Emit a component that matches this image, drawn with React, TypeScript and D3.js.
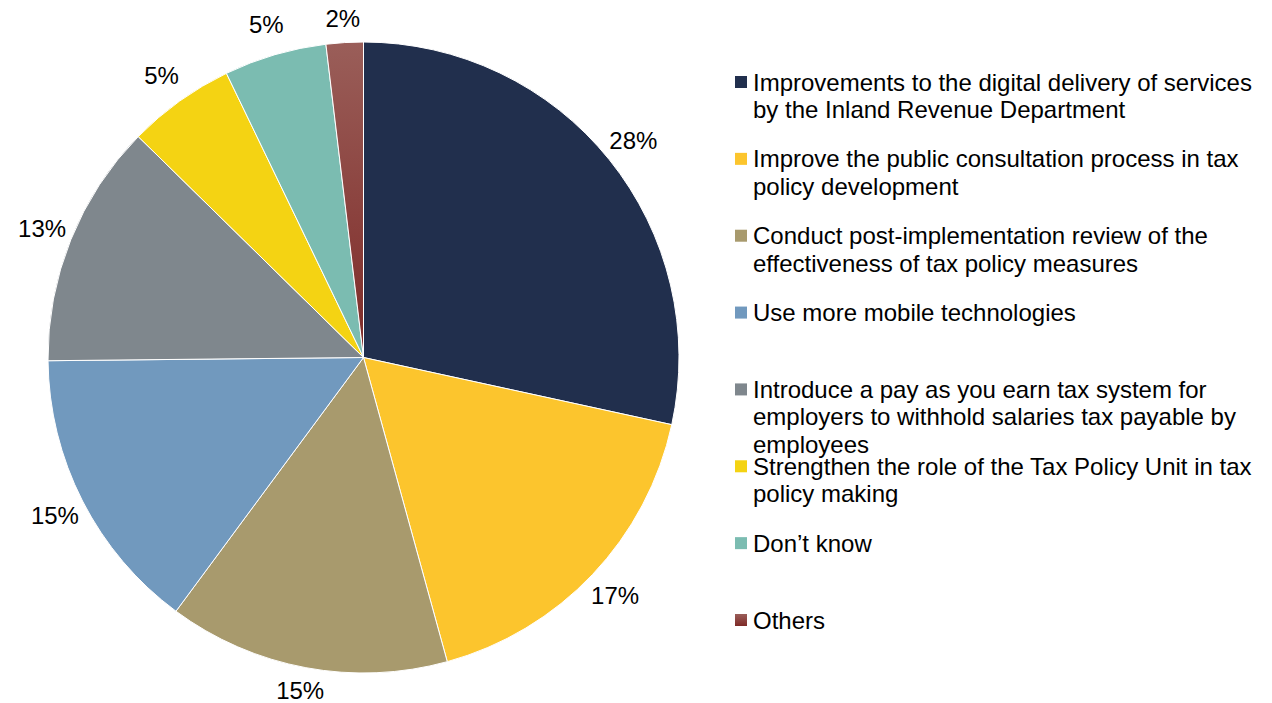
import { FC, useEffect, useRef } from 'react'
import * as d3 from 'd3'

// share of respondents, clockwise from 12 o'clock
const categories = [
  'Improvements to the digital delivery of services\nby the Inland Revenue Department',
  'Improve the public consultation process in tax\npolicy development',
  'Conduct post-implementation review of the\neffectiveness of tax policy measures',
  'Use more mobile technologies',
  'Introduce a pay as you earn tax system for\nemployers to withhold salaries tax payable by\nemployees',
  'Strengthen the role of the Tax Policy Unit in tax\npolicy making',
  'Don\u2019t know',
  'Others'
]
const values = [28.4, 17.3, 14.4, 14.7, 12.5, 5.5, 5.25, 1.9]
const valueLabels = ['28%', '17%', '15%', '15%', '13%', '5%', '5%', '2%']
const colors = ['#212f4d', '#fcc52d', '#a89a6d', '#7199be', '#7f878d', '#f4d313', '#7bbcb1', 'url(#othersGrad)']

const width = 1272
const height = 703
const font = '"Liberation Sans", Arial, sans-serif'

const PieChart: FC = () => {
  const svgRef = useRef<SVGSVGElement>(null)

  useEffect(() => {
    if (!svgRef.current) return
    const svg = d3.select(svgRef.current)
    svg.selectAll('*').remove()

    const defs = svg.append('defs')
    const grad = defs.append('linearGradient')
      .attr('id', 'othersGrad')
      .attr('x1', 0).attr('y1', 0).attr('x2', 0).attr('y2', 1)
    grad.append('stop').attr('offset', '0%').attr('stop-color', '#9a5e59')
    grad.append('stop').attr('offset', '100%').attr('stop-color', '#7e2a27')

    const cx = 363.5
    const cy = 357.5
    const r = 315.5

    const pie = d3.pie<number>().sort(null).value(d => d)
    const arcs = pie(values)
    const arc = d3.arc<d3.PieArcDatum<number>>().innerRadius(0).outerRadius(r)
    const labelArc = d3.arc<d3.PieArcDatum<number>>().innerRadius(r + 31).outerRadius(r + 31)

    const g = svg.append('g').attr('transform', `translate(${cx},${cy})`)

    g.selectAll('path')
      .data(arcs)
      .join('path')
      .attr('d', arc)
      .attr('fill', (_, i) => colors[i])
      .attr('stroke', '#fff')
      .attr('stroke-width', 1)

    // keep the outside labels inside the chart area, like the spreadsheet does
    const labelPos = (d: d3.PieArcDatum<number>) => {
      const [x, y] = labelArc.centroid(d)
      return [x, Math.max(18 - cy, Math.min(690 - cy, y))]
    }

    g.selectAll('text')
      .data(arcs)
      .join('text')
      .attr('transform', d => `translate(${labelPos(d)})`)
      .attr('text-anchor', 'middle')
      .attr('dominant-baseline', 'central')
      .attr('font-family', font)
      .attr('font-size', 24)
      .attr('fill', '#000')
      .text((_, i) => valueLabels[i])

    // legend
    const legendY = d3.scalePoint<number>()
      .domain(d3.range(categories.length))
      .range([82, 620])
    const legend = svg.append('g')
    const items = legend.selectAll('g')
      .data(categories)
      .join('g')
      .attr('transform', (_, i) => `translate(735,${legendY(i)})`)

    items.append('rect')
      .attr('x', 0)
      .attr('y', -6)
      .attr('width', 12)
      .attr('height', 12)
      .attr('fill', (_, i) => colors[i])

    items.append('text')
      .attr('font-family', font)
      .attr('font-size', 24)
      .attr('fill', '#000')
      .selectAll('tspan')
      .data(d => d.split('\n'))
      .join('tspan')
      .attr('x', 18)
      .attr('y', (_, j) => j * 27.5)
      .attr('dominant-baseline', 'central')
      .text(d => d)
  }, [])

  return (
    <svg
      ref={svgRef}
      width={width}
      height={height}
      style={{ position: 'absolute', left: 0, top: 0, background: '#fff' }}
    />
  )
}

export default function App() {
  return <PieChart />
}
